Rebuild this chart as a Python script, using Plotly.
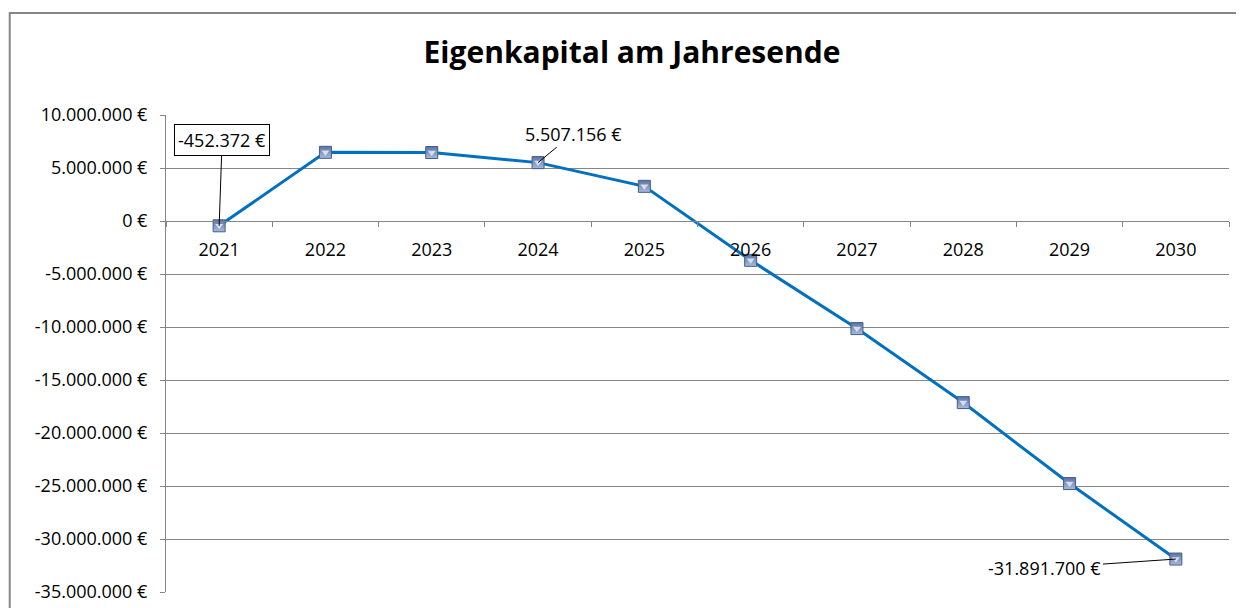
import plotly.graph_objects as go

years = ["2021", "2022", "2023", "2024", "2025", "2026", "2027", "2028", "2029", "2030"]
equity = [-452372, 6480000, 6460000, 5507156, 3270000, -3710000, -10150000, -17130000, -24770000, -31891700]
y_ticks = [10000000, 5000000, 0, -5000000, -10000000, -15000000, -20000000, -25000000, -30000000, -35000000]


def eur(v):
    return f"{v:,.0f}".replace(",", ".") + " €"


y_ticktext = [eur(v) for v in y_ticks]

FONT = "Open Sans, sans-serif"
GRID = "#868686"
FS = 18

fig = go.Figure()
fig.add_trace(go.Scatter(
    x=years, y=equity, mode="lines+markers",
    line=dict(color="#0070C0", width=3),
    marker=dict(symbol="square", size=12, color="#5b74a3",
                gradient=dict(type="vertical", color="#a9bbdb"),
                line=dict(color="#455d8a", width=1)),
    hoverinfo="x+y", showlegend=False,
))
fig.add_trace(go.Scatter(
    x=years, y=equity, mode="markers",
    marker=dict(symbol="triangle-down", size=7, color="rgba(225,235,250,0.85)",
                line=dict(width=0)),
    hoverinfo="skip", showlegend=False,
))

ann_font = dict(family=FONT, size=FS, color="#000000")
i0, i3, i9 = 0, 3, 9
fig.add_annotation(x=i0, y=equity[i0], xref="x", yref="y", text=eur(equity[i0]),
                   showarrow=True, arrowhead=0, arrowwidth=1, arrowcolor="#000000",
                   ax=3, ay=-86, font=ann_font,
                   bordercolor="#000000", borderwidth=1, borderpad=3, bgcolor="#ffffff")
fig.add_annotation(x=i3, y=equity[i3], xref="x", yref="y", text=eur(equity[i3]),
                   showarrow=True, arrowhead=0, arrowwidth=1, arrowcolor="#000000",
                   ax=35, ay=-29, font=ann_font)
fig.add_annotation(x=i9, y=equity[i9], xref="x", yref="y", text=eur(equity[i9]),
                   showarrow=True, arrowhead=0, arrowwidth=1, arrowcolor="#000000",
                   ax=-131, ay=9, font=ann_font)

fig.add_shape(type="rect", xref="paper", yref="paper",
              x0=-0.147, x1=1.2, y0=-0.2, y1=1.214,
              line=dict(color=GRID, width=2), fillcolor="rgba(0,0,0,0)", layer="below")

fig.update_layout(
    width=1236, height=600,
    margin=dict(l=158, r=15, t=107, b=16),
    paper_bgcolor="#ffffff", plot_bgcolor="#ffffff",
    font=dict(family=FONT, size=FS, color="#000000"),
    title=dict(text="<b>Eigenkapital am Jahresende</b>",
               font=dict(family=FONT, size=30, color="#000000"),
               x=624 / 1236, xanchor="center", xref="container",
               y=1 - 44 / 600, yanchor="middle", yref="container",
               automargin=False),
    xaxis=dict(type="category", range=[-0.5, 9.5],
               anchor="free", position=35 / 45, automargin=False,
               showline=True, linecolor=GRID, linewidth=1,
               showgrid=False, zeroline=False,
               ticks="outside", tickson="boundaries", ticklen=5, tickcolor=GRID,
               ticklabelstandoff=12,
               tickfont=dict(family=FONT, size=FS, color="#000000")),
    yaxis=dict(range=[-35000000, 10000000], automargin=False,
               tickvals=y_ticks, ticktext=y_ticktext,
               showline=True, linecolor=GRID, linewidth=1,
               showgrid=True, gridcolor=GRID, gridwidth=1, zeroline=False,
               ticks="outside", ticklen=5, tickcolor=GRID,
               ticklabelstandoff=9,
               tickfont=dict(family=FONT, size=FS, color="#000000")),
)

fig.write_html("out.html")
